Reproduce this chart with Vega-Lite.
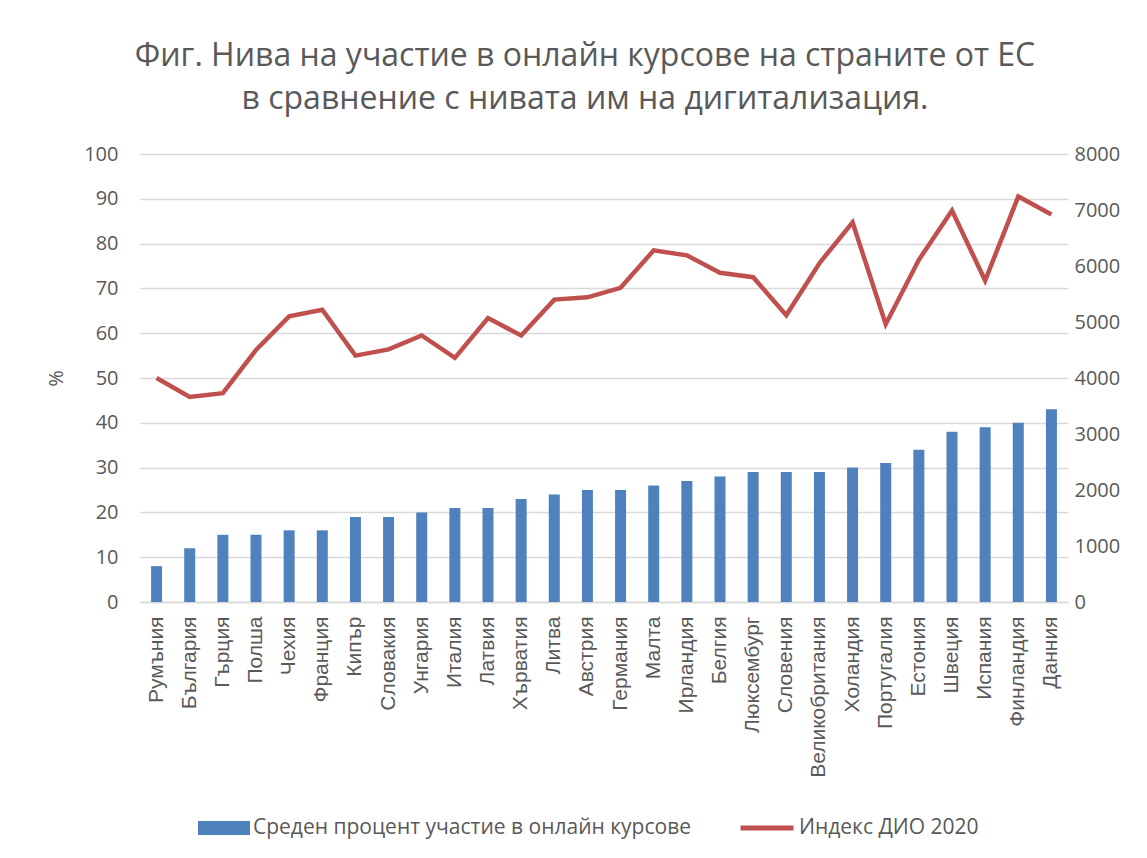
{
  "$schema": "https://vega.github.io/schema/vega-lite/v6.json",
  "width": 928,
  "height": 448,
  "autosize": {"type": "none"},
  "padding": {"left": 140, "top": 154, "right": 79, "bottom": 256},
  "background": "white",
  "config": {
    "view": {"stroke": null},
    "font": "Open Sans",
    "axis": {"labelColor": "#595959", "titleColor": "#595959", "labelFont": "Open Sans"},
    "legend": {"labelColor": "#595959", "labelFont": "Open Sans"}
  },
  "title": {
    "text": ["Фиг. Нива на участие в онлайн курсове на страните от ЕС", "в сравнение с нивата им на дигитализация."],
    "fontSize": 32,
    "font": "Open Sans",
    "fontWeight": "normal",
    "color": "#595959",
    "lineHeight": 43,
    "anchor": "middle",
    "offset": 28,
    "dx": -19
  },
  "data": {
    "values": [
      {"country": "Румъния", "pct": 8, "dio": 4000},
      {"country": "България", "pct": 12, "dio": 3660},
      {"country": "Гърция", "pct": 15, "dio": 3730},
      {"country": "Полша", "pct": 15, "dio": 4500},
      {"country": "Чехия", "pct": 16, "dio": 5100},
      {"country": "Франция", "pct": 16, "dio": 5220},
      {"country": "Кипър", "pct": 19, "dio": 4400},
      {"country": "Словакия", "pct": 19, "dio": 4510},
      {"country": "Унгария", "pct": 20, "dio": 4760},
      {"country": "Италия", "pct": 21, "dio": 4360},
      {"country": "Латвия", "pct": 21, "dio": 5070},
      {"country": "Хърватия", "pct": 23, "dio": 4760},
      {"country": "Литва", "pct": 24, "dio": 5400},
      {"country": "Австрия", "pct": 25, "dio": 5440},
      {"country": "Германия", "pct": 25, "dio": 5610},
      {"country": "Малта", "pct": 26, "dio": 6280},
      {"country": "Ирландия", "pct": 27, "dio": 6190},
      {"country": "Белгия", "pct": 28, "dio": 5880},
      {"country": "Люксембург", "pct": 29, "dio": 5800},
      {"country": "Словения", "pct": 29, "dio": 5120},
      {"country": "Великобритания", "pct": 29, "dio": 6050},
      {"country": "Холандия", "pct": 30, "dio": 6780},
      {"country": "Португалия", "pct": 31, "dio": 4960},
      {"country": "Естония", "pct": 34, "dio": 6110},
      {"country": "Швеция", "pct": 38, "dio": 6990},
      {"country": "Испания", "pct": 39, "dio": 5740},
      {"country": "Финландия", "pct": 40, "dio": 7240},
      {"country": "Данния", "pct": 43, "dio": 6920}
    ]
  },
  "encoding": {
    "x": {
      "field": "country",
      "type": "nominal",
      "sort": null,
      "scale": {"paddingInner": 0.1, "paddingOuter": 0.05},
      "axis": {
        "title": null,
        "labelAngle": -90,
        "labelFontSize": 21,
        "labelFont": "Liberation Sans",
        "labelPadding": 14,
        "labelLimit": 300,
        "ticks": false,
        "domain": true,
        "domainColor": "#D9D9D9",
        "domainWidth": 1.5
      }
    }
  },
  "layer": [
    {
      "mark": {"type": "bar", "width": 11},
      "encoding": {
        "y": {
          "field": "pct",
          "type": "quantitative",
          "scale": {"domain": [0, 100]},
          "axis": {
            "title": "%",
            "titleFontSize": 20,
            "titleFontWeight": "normal",
            "titlePadding": 17,
            "labelFontSize": 20,
            "labelPadding": 22,
            "values": [0, 10, 20, 30, 40, 50, 60, 70, 80, 90, 100],
            "labelOverlap": false,
            "ticks": false,
            "domain": false,
            "gridColor": "#D9D9D9",
            "gridWidth": 1.5
          }
        },
        "fill": {
          "datum": "Среден процент участие в онлайн курсове",
          "scale": {"range": ["#4F81BD"]},
          "legend": {
            "title": null,
            "orient": "none",
            "legendX": 58,
            "legendY": 648,
            "symbolType": "M-1,-0.27H1V0.27H-1Z",
            "symbolSize": 2704,
            "symbolStrokeWidth": 0,
            "labelFontSize": 21,
            "labelLimit": 600,
            "labelOffset": 3
          }
        }
      }
    },
    {
      "mark": {"type": "line", "strokeWidth": 4.5, "color": "#C0504D"},
      "encoding": {
        "y": {
          "field": "dio",
          "type": "quantitative",
          "scale": {"domain": [0, 8000]},
          "axis": {
            "title": null,
            "orient": "right",
            "format": "d",
            "labelFontSize": 20,
            "labelPadding": 6,
            "values": [0, 1000, 2000, 3000, 4000, 5000, 6000, 7000, 8000],
            "labelOverlap": false,
            "ticks": false,
            "domain": false,
            "grid": false
          }
        },
        "stroke": {
          "datum": "Индекс ДИО 2020",
          "scale": {"range": ["#C0504D"]},
          "legend": {
            "title": null,
            "orient": "none",
            "legendX": 598,
            "legendY": 645,
            "symbolType": "stroke",
            "symbolSize": 2809,
            "symbolStrokeWidth": 5,
            "labelFontSize": 21,
            "labelLimit": 600,
            "labelOffset": 3
          }
        }
      }
    }
  ],
  "resolve": {"scale": {"y": "independent"}}
}
